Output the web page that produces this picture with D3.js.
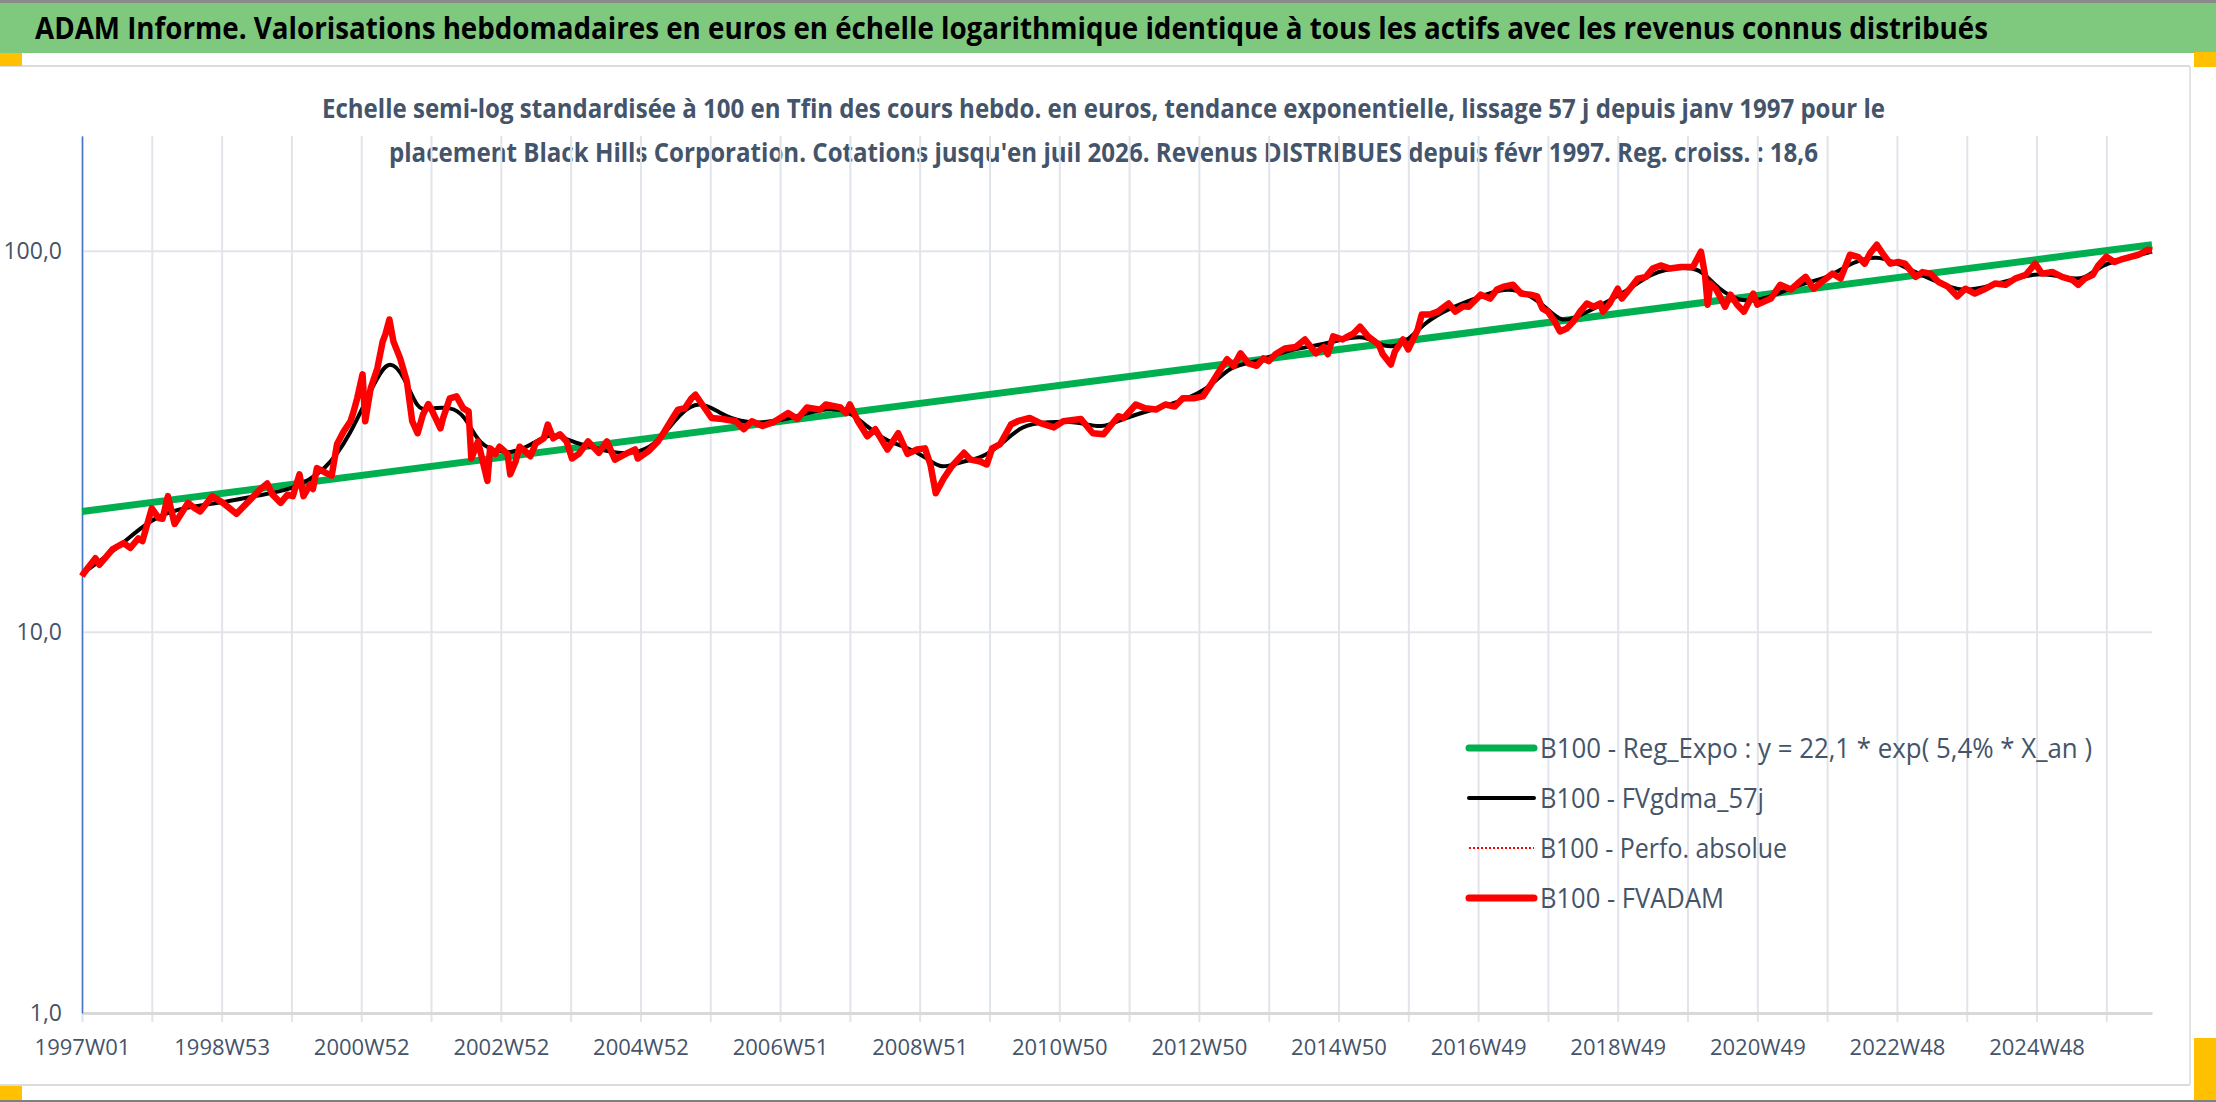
<!DOCTYPE html>
<html>
<head>
<meta charset="utf-8">
<script src="https://cdn.jsdelivr.net/npm/d3@7"></script>
<style>
  body { margin: 0; background: #fff; }
  svg { display: block; }
</style>
</head>
<body>
<div id="chart"></div>
<script>
// week labels shown under the x axis (every 104 weeks)
var weekLabels = ["1997W01","1998W53","2000W52","2002W52","2004W52","2006W51","2008W51",
  "2010W50","2012W50","2014W50","2016W49","2018W49","2020W49","2022W48","2024W48"];
var nWeeks = 1542;
var yTicks = [1, 10, 100];

// B100 - FVADAM (week index, value)
var adamWeek = [0,1,10,13,23,31,36,42,45,52,57,60,64,69,79,84,88,97,105,115,123,133,138,142,148,153,157,162,165,170,172,175,182,186,190,195,200,202,205,209,211,215,220,224,226,229,232,237,242,246,250,254,258,261,267,269,274,279,284,288,290,295,302,304,308,311,317,319,323,326,330,334,338,344,347,351,356,361,365,370,377,385,391,397,405,412,414,422,429,434,440,444,449,454,457,462,469,477,487,493,499,507,515,526,533,540,550,554,565,569,572,578,585,591,600,608,615,622,628,632,636,642,648,657,662,669,674,678,684,692,697,706,714,724,731,744,753,761,766,772,776,785,792,800,807,814,820,828,835,841,847,853,858,863,869,875,880,884,889,896,904,911,919,925,928,932,939,943,947,952,958,966,969,975,978,984,988,995,998,1004,1010,1018,1023,1029,1033,1042,1049,1054,1059,1066,1072,1079,1084,1088,1092,1097,1101,1106,1111,1116,1121,1126,1131,1133,1138,1144,1147,1153,1159,1165,1170,1176,1183,1191,1200,1206,1209,1211,1213,1217,1221,1224,1228,1233,1238,1245,1248,1258,1265,1273,1278,1284,1290,1296,1304,1310,1317,1323,1328,1332,1337,1342,1347,1353,1358,1366,1371,1377,1383,1390,1397,1403,1410,1418,1425,1433,1440,1448,1455,1460,1468,1475,1483,1487,1492,1498,1502,1508,1514,1520,1526,1532,1539,1542];
var adamVal = [14.0,14.2,15.6,15.0,16.5,17.1,16.6,17.6,17.3,21.1,19.9,19.8,22.7,19.2,21.8,21.1,20.7,22.7,21.8,20.4,21.8,23.7,24.5,22.9,21.8,22.9,22.7,25.9,22.7,24.4,23.7,26.9,26.1,25.7,31.1,33.6,35.7,37.5,41.0,47.4,35.7,43.5,49.1,57.8,60.3,66.0,57.8,52.2,45.4,35.7,33.2,37.2,39.6,37.9,34.2,36.4,41.0,41.5,38.6,37.9,28.5,31.6,24.9,30.3,29.3,30.6,29.3,25.9,28.0,30.6,29.8,28.9,31.2,32.2,35.0,32.2,33.0,31.6,28.5,29.3,31.6,29.5,31.6,28.3,29.3,30.1,28.5,29.8,31.6,33.6,36.4,38.3,38.6,41.0,41.9,39.5,36.4,36.2,35.7,34.0,35.7,34.7,35.5,37.5,36.2,38.8,38.3,39.5,38.8,37.5,39.5,35.7,32.6,34.0,30.1,33.2,29.3,30.1,30.3,27.5,23.1,25.3,27.2,29.5,28.3,28.0,27.5,30.3,31.1,35.0,35.7,36.4,35.3,34.4,35.7,36.2,33.2,33.0,34.7,36.8,36.4,39.5,38.6,38.3,39.5,39.0,41.0,41.0,41.5,44.6,48.2,51.9,49.9,53.8,50.6,49.9,52.2,51.3,53.5,55.4,55.9,58.5,53.8,55.9,53.5,59.6,58.5,59.6,60.6,63.2,59.6,56.7,53.5,50.3,54.4,58.5,55.1,62.1,68.0,68.0,69.2,72.7,69.2,71.5,71.3,76.7,74.9,79.1,80.5,81.4,77.2,76.7,75.9,70.5,69.2,65.2,61.4,62.5,65.2,69.2,72.7,71.3,72.7,69.2,72.7,79.5,74.9,79.5,84.5,85.4,89.8,91.5,89.8,90.6,90.6,99.4,86.5,72.2,82.0,79.5,74.9,71.3,76.7,72.2,69.2,77.2,72.2,74.9,81.4,79.1,82.0,85.4,79.5,82.8,87.1,84.5,97.6,96.4,92.5,98.5,103.7,97.6,92.5,93.4,92.5,85.4,87.9,87.1,82.8,80.5,75.9,79.5,77.2,79.5,82.0,81.4,84.5,86.5,92.5,87.1,87.9,85.4,83.7,81.4,84.5,86.5,91.5,96.4,93.4,95.1,96.4,97.6,100.6,100.0];

// B100 - FVgdma_57j (smoothed line)
var gdmaWeek = [0,26,52,78,104,130,156,182,200,215,228,240,250,258,275,285,295,305,320,335,350,365,380,400,415,430,445,460,475,490,510,530,550,570,585,600,615,630,640,655,670,685,700,720,740,760,775,800,820,840,855,875,895,915,935,955,970,985,1000,1020,1040,1060,1075,1090,1102,1115,1130,1150,1170,1190,1205,1215,1230,1245,1260,1280,1300,1320,1337,1350,1365,1385,1400,1420,1440,1460,1480,1492,1505,1525,1542];
var gdmaVal = [14.2,16.5,20.0,21.3,21.8,22.8,23.5,26.5,33.0,43.0,52.8,47.0,38.0,38.5,39.0,37.0,31.5,30.0,29.3,31.0,33.5,31.5,30.5,29.3,29.5,31.5,37.5,40.5,37.5,35.5,35.3,36.5,38.5,38.5,34.5,31.5,30.5,28.5,26.7,28.0,28.5,31.0,35.0,35.5,35.8,34.0,36.3,38.5,40.5,43.5,50.0,51.0,54.5,56.0,58.0,60.5,55.5,56.5,65.0,71.0,75.5,80.0,78.0,71.5,64.5,67.5,71.5,78.0,88.0,90.5,90.0,82.0,74.5,73.5,76.0,82.0,84.5,94.0,97.0,93.5,88.0,82.0,78.0,80.5,84.5,88.0,84.5,84.0,92.5,95.5,99.5];

// B100 - Reg_Expo end points
var regWeek = [0, 1542];
var regVal = [20.7, 103.7];

var legendNames = ["B100 - Reg_Expo : y = 22,1 * exp( 5,4% *  X_an )",
  "B100 - FVgdma_57j", "B100 - Perfo. absolue", "B100 - FVADAM"];

var W = 2216, H = 1102;
var margin = {top: 136, right: 64, bottom: 89, left: 82};
var width = W - margin.left - margin.right;
var height = H - margin.top - margin.bottom;
var FONT = "'Liberation Sans Narrow', 'Open Sans', sans-serif";
var textCol = '#44546A';

var svg = d3.select('#chart').append('svg')
    .attr('width', W)
    .attr('height', H)
    .style('font-family', FONT);

// frame pieces
svg.append('rect').attr('x', 0).attr('y', 0).attr('width', W).attr('height', 3).attr('fill', '#8a8a8a');
svg.append('rect').attr('x', 0).attr('y', 3).attr('width', W).attr('height', 50).attr('fill', '#7FC97F');
svg.append('line').attr('x1', 0).attr('x2', 2190).attr('y1', 66).attr('y2', 66).attr('stroke', '#dcdcdc').attr('stroke-width', 2);
svg.append('line').attr('x1', 0).attr('x2', 2190).attr('y1', 1085).attr('y2', 1085).attr('stroke', '#dcdcdc').attr('stroke-width', 2);
svg.append('line').attr('x1', 2190).attr('x2', 2190).attr('y1', 66).attr('y2', 1085).attr('stroke', '#e4e4e4').attr('stroke-width', 2);
svg.append('rect').attr('x', 0).attr('y', 1100).attr('width', W).attr('height', 2).attr('fill', '#7f7f7f');
var orange = [[0, 53, 22, 13], [2194, 52, 22, 15], [0, 1086, 22, 14], [2194, 1038, 22, 62]];
orange.forEach(function(o){
    svg.append('rect').attr('x', o[0]).attr('y', o[1]).attr('width', o[2]).attr('height', o[3]).attr('fill', '#FFC000');
});

svg.append('text')
    .attr('x', 35).attr('y', 39)
    .attr('textLength', 1953).attr('lengthAdjust', 'spacingAndGlyphs')
    .attr('font-size', 30).attr('font-weight', 'bold').attr('fill', '#000')
    .text("ADAM Informe. Valorisations hebdomadaires en euros en échelle logarithmique identique à tous les actifs avec les revenus connus distribués");

var sub1 = "Echelle semi-log standardisée à 100 en Tfin des cours hebdo. en euros, tendance exponentielle, lissage 57 j depuis janv 1997 pour le";
var sub2 = "placement Black Hills Corporation. Cotations jusqu'en juil 2026. Revenus DISTRIBUES depuis févr 1997. Reg. croiss. : 18,6";
svg.append('text').attr('x', 322).attr('y', 118)
    .attr('textLength', 1563).attr('lengthAdjust', 'spacingAndGlyphs')
    .attr('font-size', 27).attr('font-weight', 'bold').attr('fill', textCol).text(sub1);
svg.append('text').attr('x', 389).attr('y', 162)
    .attr('textLength', 1429).attr('lengthAdjust', 'spacingAndGlyphs')
    .attr('font-size', 27).attr('font-weight', 'bold').attr('fill', textCol).text(sub2);

var chartGroup = svg.append('g')
    .attr('transform', `translate(${margin.left}, ${margin.top})`);

var xScale = d3.scaleLinear().domain([0, nWeeks]).range([0, width]);
var yScale = d3.scaleLog().domain([1, 200]).range([height, 0]);

var gridTicks = d3.range(0, nWeeks - 30, 52);

// vertical grid, reaching a little below the axis
chartGroup.append('g')
    .attr('transform', `translate(0, ${height + 9})`)
    .call(d3.axisBottom(xScale).tickValues(gridTicks).tickSize(-(height + 9)).tickFormat(''))
    .call(g => g.select('.domain').remove())
    .call(g => g.selectAll('line').attr('stroke', '#e1e4ea').attr('stroke-width', 2));

// horizontal grid
chartGroup.append('g')
    .call(d3.axisLeft(yScale).tickValues([10, 100]).tickSize(-width).tickFormat(''))
    .call(g => g.select('.domain').remove())
    .call(g => g.selectAll('line').attr('stroke', '#e1e4ea').attr('stroke-width', 2));

// x axis
var xAxis = chartGroup.append('g')
    .attr('transform', `translate(0, ${height})`)
    .call(d3.axisBottom(xScale).tickValues(gridTicks).tickSize(0).tickPadding(26)
        .tickFormat(d => d % 104 === 0 ? weekLabels[d / 104] : ''));
xAxis.select('.domain').attr('stroke', '#d9d9d9').attr('stroke-width', 3);
xAxis.selectAll('text').attr('font-size', 22).attr('fill', textCol).attr('font-family', FONT);

// y axis
var yAxis = chartGroup.append('g')
    .call(d3.axisLeft(yScale).tickValues(yTicks).tickSize(0).tickPadding(20)
        .tickFormat(d => d3.format('.1f')(d).replace('.', ',')));
yAxis.select('.domain').attr('stroke', '#4472C4').attr('stroke-width', 1.5);
yAxis.selectAll('text').attr('font-size', 23).attr('fill', textCol).attr('font-family', FONT);

var line = d3.line()
    .x(d => xScale(d[0]))
    .y(d => yScale(d[1]));

var regData = regWeek.map((w, i) => [w, regVal[i]]);
var gdmaData = gdmaWeek.map((w, i) => [w, gdmaVal[i]]);
var adamData = adamWeek.map((w, i) => [w, adamVal[i]]);

chartGroup.append('path').datum(regData)
    .attr('d', line).attr('fill', 'none').attr('stroke', '#00B050').attr('stroke-width', 7);

chartGroup.append('path').datum(gdmaData)
    .attr('d', line.curve(d3.curveBasis)).attr('fill', 'none').attr('stroke', '#000').attr('stroke-width', 4);
line.curve(d3.curveLinear);

chartGroup.append('path').datum(adamData)
    .attr('d', line).attr('fill', 'none').attr('stroke', '#FF0000').attr('stroke-width', 2)
    .attr('stroke-dasharray', '2,2');

chartGroup.append('path').datum(adamData)
    .attr('d', line).attr('fill', 'none').attr('stroke', '#FF0000').attr('stroke-width', 6.5)
    .attr('stroke-linejoin', 'round');

// legend
var legendStyle = [
    {color: '#00B050', w: 7, dash: null, len: 552},
    {color: '#000', w: 4, dash: null, len: 224},
    {color: '#FF0000', w: 2, dash: '2,2', len: 247},
    {color: '#FF0000', w: 7, dash: null, len: 184}
];
var legend = svg.append('g').attr('transform', 'translate(1469, 748)');
legendNames.forEach(function(name, i){
    var row = legend.append('g').attr('transform', `translate(0, ${i * 50})`);
    row.append('line')
        .attr('x1', 0).attr('x2', 65).attr('y1', 0).attr('y2', 0)
        .attr('stroke', legendStyle[i].color).attr('stroke-width', legendStyle[i].w)
        .attr('stroke-linecap', legendStyle[i].dash ? 'butt' : 'round')
        .attr('stroke-dasharray', legendStyle[i].dash);
    row.append('text')
        .attr('x', 71).attr('y', 10)
        .attr('font-size', 28).attr('fill', textCol)
        .attr('textLength', legendStyle[i].len).attr('lengthAdjust', 'spacingAndGlyphs')
        .text(name);
});
</script>
</body>
</html>
